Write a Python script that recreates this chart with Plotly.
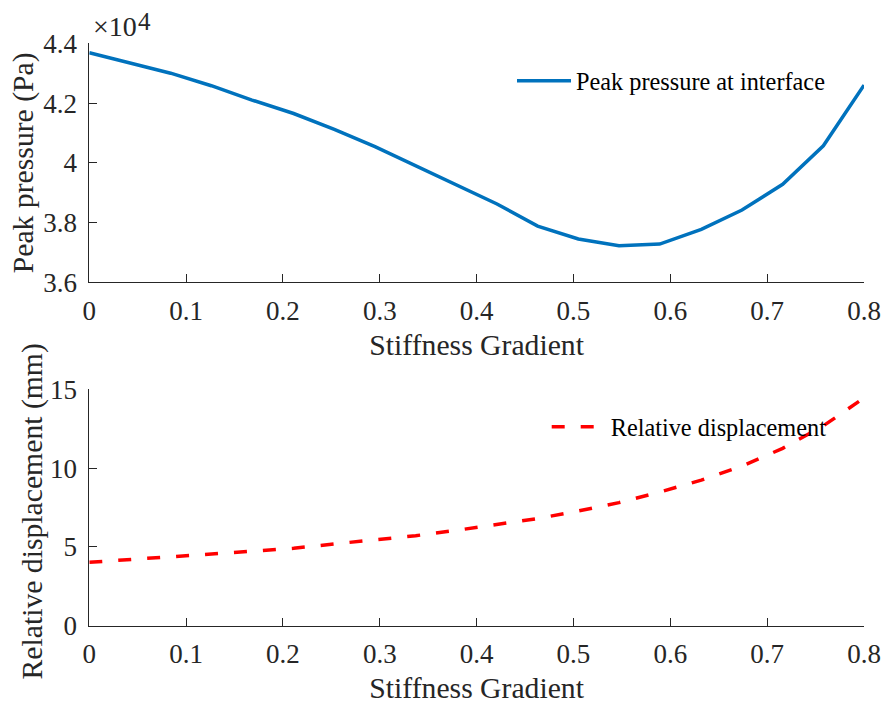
import plotly.graph_objects as go

# ---- data ----
stiffness_gradient = [0, 0.042, 0.084, 0.126, 0.168, 0.211, 0.253, 0.295, 0.337, 0.379,
                      0.421, 0.463, 0.505, 0.547, 0.589, 0.632, 0.674, 0.716, 0.758, 0.8]
peak_pressure_pa = [43685, 43350, 43000, 42580, 42100, 41650, 41120, 40540, 39900, 39260,
                    38620, 37880, 37450, 37225, 37280, 37770, 38420, 39280, 40570, 42600]
relative_disp_mm = [4.02, 4.19, 4.35, 4.54, 4.72, 4.91, 5.19, 5.43, 5.71, 6.05,
                    6.44, 6.80, 7.28, 7.81, 8.48, 9.24, 10.13, 11.25, 12.68, 14.45]

x_ticks = [0, 0.1, 0.2, 0.3, 0.4, 0.5, 0.6, 0.7, 0.8]
x_tick_labels = ["0", "0.1", "0.2", "0.3", "0.4", "0.5", "0.6", "0.7", "0.8"]
p_ticks = [36000, 38000, 40000, 42000, 44000]
p_tick_labels = ["3.6", "3.8", "4", "4.2", "4.4"]
d_ticks = [0, 5, 10, 15]
d_tick_labels = ["0", "5", "10", "15"]
exponent_base = "×10"
exponent_power = "4"

W, H = 885, 707
FONT = "Liberation Serif"
AX = "#262626"
TICK_SIZE = 27
LABEL_SIZE = 29.7
LEG_SIZE = 24.3

fig = go.Figure()
fig.add_trace(go.Scatter(x=stiffness_gradient, y=peak_pressure_pa, mode="lines",
                         name="Peak pressure at interface",
                         line=dict(color="#0072BD", width=3.5),
                         xaxis="x", yaxis="y", legend="legend"))
fig.add_trace(go.Scatter(x=stiffness_gradient, y=relative_disp_mm, mode="lines",
                         name="Relative displacement",
                         line=dict(color="#FF0000", width=3.5, dash="13px,16px"),
                         xaxis="x2", yaxis="y2", legend="legend2"))

def px_x(p):
    return p / W

def px_y(p):
    return 1 - p / H

x_dom = [px_x(89.3), px_x(864)]
common_axis = dict(showline=True, linecolor=AX, linewidth=1, mirror=False,
                   ticks="inside", ticklen=8, tickcolor=AX, tickwidth=1,
                   showgrid=False, zeroline=False, automargin=False,
                   tickfont=dict(family=FONT, size=TICK_SIZE, color=AX))

fig.update_layout(
    width=W, height=H, margin=dict(l=0, r=0, t=0, b=0, autoexpand=False),
    paper_bgcolor="white", plot_bgcolor="white",
    font=dict(family=FONT, color=AX),
    xaxis=dict(domain=x_dom, anchor="y", range=[0, 0.8], tickvals=x_ticks,
               ticktext=x_tick_labels, ticklabelstandoff=4,
               title=dict(text="Stiffness Gradient", standoff=9,
                          font=dict(family=FONT, size=LABEL_SIZE, color=AX)),
               **common_axis),
    yaxis=dict(domain=[px_y(282.3), px_y(43.3)], anchor="x", range=[36000, 44000],
               tickvals=p_ticks, ticktext=p_tick_labels, ticklabelstandoff=6,
               title=dict(text="Peak pressure (Pa)", standoff=0,
                          font=dict(family=FONT, size=LABEL_SIZE, color=AX)),
               **common_axis),
    xaxis2=dict(domain=x_dom, anchor="y2", range=[0, 0.8], tickvals=x_ticks,
                ticktext=x_tick_labels, ticklabelstandoff=4,
                title=dict(text="Stiffness Gradient", standoff=9,
                           font=dict(family=FONT, size=LABEL_SIZE, color=AX)),
                **common_axis),
    yaxis2=dict(domain=[px_y(625.7), px_y(389.3)], anchor="x2", range=[0, 15],
                tickvals=d_ticks, ticktext=d_tick_labels, ticklabelstandoff=6,
                **common_axis),
    legend=dict(x=px_x(512), y=px_y(81), xanchor="left", yanchor="middle",
                itemwidth=54, bgcolor="rgba(0,0,0,0)", borderwidth=0,
                font=dict(family=FONT, size=LEG_SIZE, color="black")),
    legend2=dict(x=px_x(546.7), y=px_y(427), xanchor="left", yanchor="middle",
                 itemwidth=54, bgcolor="rgba(0,0,0,0)", borderwidth=0,
                 font=dict(family=FONT, size=LEG_SIZE, color="black")),
    showlegend=True,
)

# y-axis title of the lower panel (placed as a rotated label)
fig.add_annotation(text="Relative displacement (mm)", xref="paper", yref="paper",
                   x=px_x(31.5), y=px_y(512), xanchor="center", yanchor="middle",
                   textangle=-90, showarrow=False,
                   font=dict(family=FONT, size=LABEL_SIZE, color=AX))

fig.add_annotation(text=exponent_base, xref="paper", yref="paper",
                   x=px_x(91), y=px_y(26.7), xanchor="left", yanchor="middle",
                   showarrow=False, font=dict(family=FONT, size=28, color=AX))
fig.add_annotation(text=exponent_power, xref="paper", yref="paper",
                   x=px_x(135.5), y=px_y(22), xanchor="left", yanchor="middle",
                   showarrow=False, font=dict(family=FONT, size=25, color=AX))

fig.write_html("out.html")
